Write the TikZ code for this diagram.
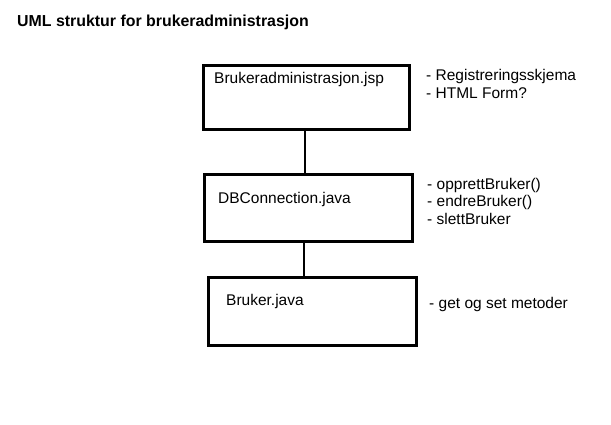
\documentclass[tikz,border=0pt]{standalone}
\usepackage{fontspec}
\setmainfont{Liberation Sans}
\usepackage{tikz}

\begin{document}
\begin{tikzpicture}[x=1pt, y=-1pt,
    boks/.style={draw, line width=2.8pt, inner sep=0pt},
    tekst/.style={anchor=base west, inner sep=0pt, font=\fontsize{15.5}{17.5}\selectfont},
    notat/.style={tekst, align=left}]
  \useasboundingbox (0,0) rectangle (611,424);

  % Title
  \node[tekst, font=\fontsize{15.9}{17.5}\selectfont\bfseries] (tittel) at (17,26) {UML struktur for brukeradministrasjon};

  % Draw the three classes
  \node[boks, minimum width=206pt, minimum height=64pt] (jsp) at (306.5,97.5) {};
  \node[boks, minimum width=208pt, minimum height=67pt] (db) at (308.5,208) {};
  \node[boks, minimum width=208pt, minimum height=68pt] (bruker) at (312.5,311.5) {};

  \node[tekst] (jsptekst) at (214,83) {Brukeradministrasjon.jsp};
  \node[tekst] (dbtekst) at (218,203) {DBConnection.java};
  \node[tekst] (brukertekst) at (226,305) {Bruker.java};

  % Links between the classes
  \draw[line width=2.8pt] ([xshift=-1.5pt]jsp.south) -- ([xshift=-3.5pt]db.north);
  \draw[line width=2.8pt] ([xshift=-4.5pt]db.south) -- ([xshift=-8.5pt]bruker.north);

  % Notes beside each class (base = last line)
  \node[notat] (jspnotat) at (426,98) {- Registreringsskjema\\- HTML Form?};
  \node[notat] (dbnotat) at (427,224) {- opprettBruker()\\- endreBruker()\\- slettBruker};
  \node[tekst] (brukernotat) at (429,308) {- get og set metoder};
\end{tikzpicture}
\end{document}
